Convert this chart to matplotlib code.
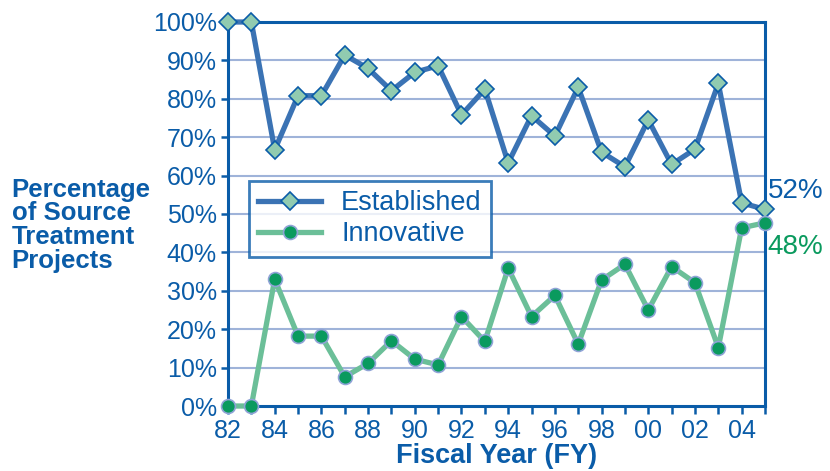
import numpy as np
import matplotlib.pyplot as plt

plt.rcParams['font.family'] = ['Liberation Sans', 'DejaVu Sans']

# data
years = list(range(1982, 2006))
established = [100, 100, 66.7, 80.8, 80.8, 91.4, 87.9, 82.1, 86.9, 88.6, 75.8, 82.5,
               63.3, 75.6, 70.3, 83.0, 66.1, 62.3, 74.5, 62.9, 66.9, 84.0, 52.9, 51.2]
innovative = [0, 0, 33.0, 18.2, 18.2, 7.6, 11.1, 17.0, 12.2, 10.7, 23.3, 16.8,
              35.9, 23.3, 28.8, 16.1, 32.8, 36.9, 25.0, 36.3, 32.1, 15.2, 46.4, 47.7]
ytick_vals = list(range(0, 101, 10))
xtick_vals = list(range(1982, 2005, 2))

navy = '#0a5ca8'
est_line = '#3b73b4'
est_face = '#91cbb0'
inn_line = '#6bbf98'
inn_face = '#0a9a5e'
grid_col = '#9fb3d9'

fig = plt.figure(figsize=(8.3, 4.71), dpi=100)
ax = fig.add_axes([0.2747, 0.138, 0.6470, 0.8153])

for y in ytick_vals[1:-1]:
    ax.axhline(y, color=grid_col, lw=1.5, zorder=1)

ax.plot(years, established, color=est_line, lw=3.8, marker='D', ms=9.5,
        mfc=est_face, mec=navy, mew=1.2, clip_on=False, zorder=4, label='Established')
ax.plot(years, innovative, color=inn_line, lw=3.8, marker='o', ms=10,
        mfc=inn_face, mec='#8fa3d6', mew=1.2, clip_on=False, zorder=4, label='Innovative')

ax.set_xlim(1982, 2005)
ax.set_ylim(0, 100)

for s in ax.spines.values():
    s.set_color(navy)
    s.set_linewidth(2.2)

ax.set_yticks(ytick_vals)
ax.set_yticklabels([f'{v}%' for v in ytick_vals])
ax.set_xticks(years, minor=True)
ax.set_xticks(xtick_vals)
ax.set_xticklabels([f'{y % 100:02d}' for y in xtick_vals])
ax.tick_params(axis='both', colors=navy, labelsize=18, width=1.8, direction='out')
ax.tick_params(axis='y', length=5, pad=3)
ax.tick_params(axis='x', which='both', length=6, width=1.8, pad=3, colors=navy)

ax.set_xlabel('Fiscal Year (FY)', fontsize=19.5, fontweight='bold', color=navy, labelpad=0.5)
fig.text(0.014, 0.522, 'Percentage\nof Source\nTreatment\nProjects', ha='left', va='center',
         fontsize=18.5, fontweight='bold', color=navy, linespacing=0.98)

ax.text(1.005, established[-1] + 1.5, '52%', transform=ax.get_yaxis_transform(),
        color=navy, fontsize=20, va='bottom', ha='left')
ax.text(1.005, innovative[-1] - 3, '48%', transform=ax.get_yaxis_transform(),
        color=inn_face, fontsize=20, va='top', ha='left')

leg = ax.legend(loc='upper left', bbox_to_anchor=(0.039, 0.587), fontsize=19.5,
                frameon=True, fancybox=False, handlelength=2.3, borderpad=0.35,
                labelspacing=0.2, handletextpad=0.75, borderaxespad=0)
leg.get_frame().set_edgecolor(navy)
leg.get_frame().set_linewidth(2)
for t in leg.get_texts():
    t.set_color(navy)
leg.set_zorder(5)

fig.savefig('out.png', dpi=100)
